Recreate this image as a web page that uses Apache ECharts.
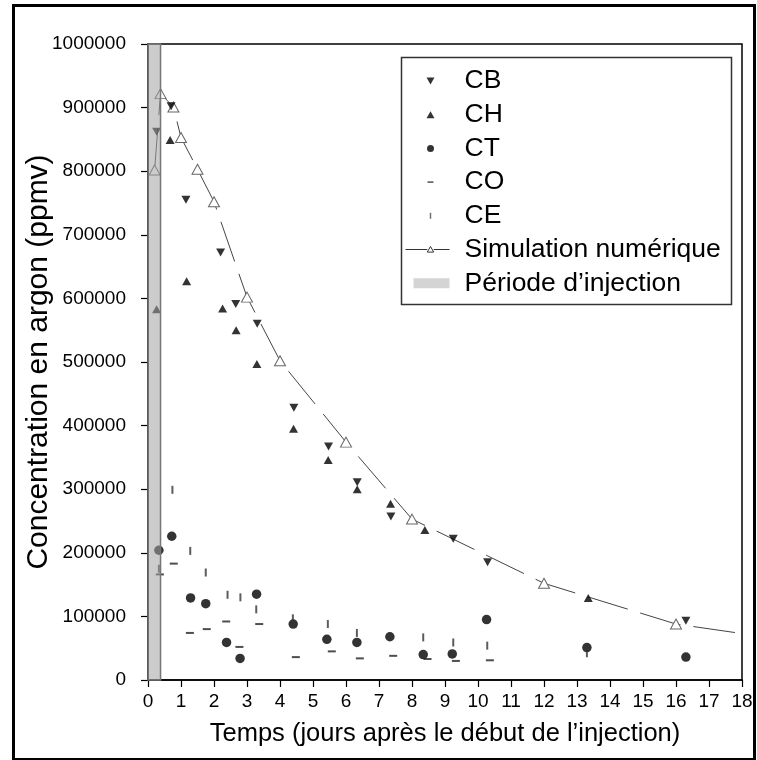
<!DOCTYPE html>
<html><head><meta charset="utf-8">
<script src="https://cdn.jsdelivr.net/npm/echarts@6/dist/echarts.min.js"></script>
<style>html,body{margin:0;padding:0;background:#fff}#c{width:757px;height:760px}</style>
</head><body><div id="c"></div>
<script>
// ---- data ----
const xTicks = [0,1,2,3,4,5,6,7,8,9,10,11,12,13,14,15,16,17,18];
const yTicks = [0,100000,200000,300000,400000,500000,600000,700000,800000,900000,1000000];

const cbDays   = [0.26, 0.70, 1.15, 2.20, 2.66, 3.31, 4.42, 5.47, 6.34, 7.36, 9.25, 10.29, 16.30];
const cbValues = [862000, 902000, 755000, 672000, 591000, 560000, 428000, 367000, 311000, 257000, 222000, 185000, 93000];

const chDays   = [0.26, 0.67, 1.17, 2.26, 2.67, 3.30, 4.41, 5.46, 6.34, 7.35, 8.39, 13.34];
const chValues = [583000, 849000, 627000, 584000, 550000, 497000, 395000, 346000, 300000, 277000, 236000, 129000];

const ctDays   = [0.33, 0.72, 1.29, 1.75, 2.38, 2.79, 3.29, 4.40, 5.42, 6.33, 7.33, 8.34, 9.22, 10.26, 13.30, 16.30];
const ctValues = [204000, 226000, 129000, 120000, 59000, 34000, 135000, 88000, 64000, 59000, 68000, 40000, 41000, 95000, 51000, 36000];

const coDays   = [0.36, 0.78, 1.27, 1.78, 2.37, 2.77, 3.37, 4.48, 5.57, 6.42, 7.43, 8.47, 9.33, 10.36];
const coValues = [166000, 183000, 74000, 80000, 92000, 52000, 88000, 36000, 45000, 34000, 38000, 33000, 30000, 31000];

const ceDays   = [0.33, 0.74, 1.28, 1.75, 2.41, 2.80, 3.28, 4.39, 5.45, 6.33, 8.34, 9.25, 10.28, 13.30];
const ceValues = [175000, 299000, 203000, 169000, 134000, 130000, 111000, 97000, 88000, 74000, 67000, 59000, 54000, 42000];

const simDays   = [0.20, 0.38, 0.77, 1.0, 1.5, 2.0, 3.0, 4.0, 6.0, 8.0, 12.0, 16.0, 18.0];
const simValues = [802000, 922000, 901000, 853000, 803000, 752000, 602000, 502000, 374000, 253000, 152000, 88000, 73000];
const simMarked = [true, true, true, true, true, true, true, true, true, true, true, true, false];

const injectionPeriod = [0, 0.38];

const names = ['CB', 'CH', 'CT', 'CO', 'CE', 'Simulation numérique', 'Période d’injection'];

// ---- build ----
const pairs = (xs, ys) => xs.map((x, i) => [x, ys[i]]);
const FONT = "'Liberation Sans', Arial, sans-serif";

const simData = simDays.map((d, i) => simMarked[i] ? [d, simValues[i]] : { value: [d, simValues[i]], symbol: 'none' });

const W = 58, H = 12;
const box = 'M0,0M' + W + ',' + H;
const icons = {
  'CB': 'path://' + box + 'M25,2.5L33,2.5L29,9.5Z',
  'CH': 'path://' + box + 'M25,9.5L33,9.5L29,2.5Z',
  'CT': 'path://' + box + 'M25.5,6A3.5,3.5,0,1,1,32.5,6A3.5,3.5,0,1,1,25.5,6Z',
  'CO': 'path://' + box + 'M26,5.2H32V6.8H26Z',
  'CE': 'path://' + box + 'M28.3,3H29.7V9H28.3Z',
  'Simulation numérique': 'path://' + box + 'M4,6H25.8M32.2,6H48M25.8,8.6L32.2,8.6L29,3Z',
  'Période d’injection': 'path://' + box + 'M12,1H48V11H12Z'
};
const legendItemStyles = {
  'CB': { color: '#000', borderWidth: 0 },
  'CH': { color: '#000', borderWidth: 0 },
  'CT': { color: '#000', borderWidth: 0 },
  'CO': { color: '#333', borderWidth: 0 },
  'CE': { color: '#444', borderWidth: 0 },
  'Simulation numérique': { color: '#fff', borderColor: '#333', borderWidth: 1 },
  'Période d’injection': { color: '#c9c9c9', borderWidth: 0 }
};

const chart = echarts.init(document.getElementById('c'), null, { renderer: 'canvas' });
chart.setOption({
  animation: false,
  backgroundColor: '#fff',
  textStyle: { fontFamily: FONT },
  grid: { left: 148, right: 15, top: 44, bottom: 80, show: true, borderColor: '#000', borderWidth: 1.5, backgroundColor: 'transparent' },
  xAxis: {
    type: 'value', min: xTicks[0], max: xTicks[xTicks.length - 1], interval: 1,
    name: 'Temps (jours après le début de l’injection)', nameLocation: 'middle', nameGap: 41,
    nameMoveOverlap: false,
    nameTextStyle: { fontSize: 25.5, color: '#000', fontFamily: FONT },
    axisLine: { lineStyle: { color: '#000', width: 1.5 } },
    axisTick: { length: 7, lineStyle: { color: '#000', width: 1.2 } },
    axisLabel: { fontSize: 19, color: '#000', margin: 12, fontFamily: FONT },
    splitLine: { show: false }
  },
  yAxis: {
    type: 'value', min: yTicks[0], max: yTicks[yTicks.length - 1], interval: 100000,
    name: 'Concentration en argon (ppmv)', nameLocation: 'middle', nameGap: 94,
    nameMoveOverlap: false,
    nameTextStyle: { fontSize: 30, color: '#000', fontFamily: FONT },
    axisLine: { show: true, lineStyle: { color: '#000', width: 1.5 } },
    axisTick: { show: true, length: 7, lineStyle: { color: '#000', width: 1.2 } },
    axisLabel: { fontSize: 19, color: '#000', margin: 22, fontFamily: FONT, formatter: v => String(v) },
    splitLine: { show: false }
  },
  legend: {
    orient: 'vertical', left: 396, top: 62, itemWidth: W, itemHeight: H, itemGap: 5.7,
    selectedMode: false, symbolKeepAspect: true,
    textStyle: { fontSize: 26.5, color: '#000', fontFamily: FONT, lineHeight: 28 },
    data: names.map(n => ({ name: n, icon: icons[n], itemStyle: legendItemStyles[n] }))
  },
  graphic: [
    { type: 'rect', left: 11, top: 3, shape: { width: 741, height: 754 }, style: { fill: 'none', stroke: '#000', lineWidth: 3 }, silent: true },
    { type: 'rect', left: 399, top: 55, shape: { width: 330, height: 247 }, style: { fill: 'none', stroke: '#333', lineWidth: 1.5 }, silent: true }
  ],
  series: [
    {
      name: 'Simulation numérique', type: 'line', data: simData, z: 2,
      symbol: 'triangle', symbolSize: [11, 10], showAllSymbol: true,
      lineStyle: { color: '#444', width: 1, type: [42, 13] },
      itemStyle: { color: '#fff', borderColor: '#666', borderWidth: 1 }
    },
    { name: 'CB', type: 'scatter', data: pairs(cbDays, cbValues), symbol: 'triangle', symbolRotate: 180, symbolSize: [9, 8], itemStyle: { color: '#000' }, z: 3 },
    { name: 'CH', type: 'scatter', data: pairs(chDays, chValues), symbol: 'triangle', symbolSize: [9, 8], itemStyle: { color: '#000' }, z: 3 },
    { name: 'CT', type: 'scatter', data: pairs(ctDays, ctValues), symbol: 'circle', symbolSize: 9.5, itemStyle: { color: '#000' }, z: 3 },
    { name: 'CO', type: 'scatter', data: pairs(coDays, coValues), symbol: 'rect', symbolSize: [8, 2], itemStyle: { color: '#222' }, z: 3 },
    { name: 'CE', type: 'scatter', data: pairs(ceDays, ceValues), symbol: 'rect', symbolSize: [2, 8], itemStyle: { color: '#333' }, z: 3 },
    {
      name: 'Période d’injection', type: 'scatter', data: [], itemStyle: { color: '#c9c9c9' },
      markArea: {
        silent: true, z: 6,
        itemStyle: { color: 'rgba(163,163,163,0.55)', borderColor: '#777', borderWidth: 1.5 },
        label: { show: false },
        data: [[{ xAxis: injectionPeriod[0] }, { xAxis: injectionPeriod[1] }]]
      }
    }
  ]
});
</script>
</body></html>
